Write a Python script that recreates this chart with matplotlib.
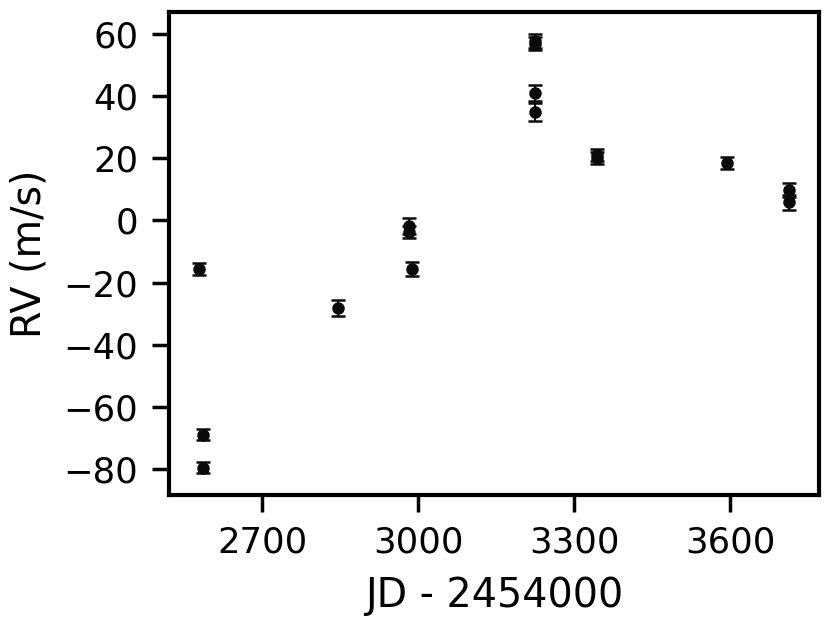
import matplotlib
matplotlib.use("Agg")
import matplotlib.pyplot as plt

# RV measurements (JD - 2454000, m/s)
jd = [2579, 2587, 2587, 2846, 2983, 2983, 2988, 3225, 3225, 3225, 3225,
      3345, 3345, 3594, 3714, 3714]
rv = [-15.6, -69.0, -79.6, -28.2, -1.8, -3.7, -15.6, 57.8, 56.9, 41.0, 34.9,
      21.0, 20.1, 18.5, 9.8, 5.8]
rv_err = [1.9, 1.8, 1.8, 2.5, 2.5, 2.0, 2.3, 2.2, 2.0, 2.7, 3.0,
          1.9, 1.8, 1.8, 2.3, 2.3]

xticks = [2700, 3000, 3300, 3600]
yticks = [-80, -60, -40, -20, 0, 20, 40, 60]

fig = plt.figure(figsize=(8.31, 6.24), dpi=100)
ax = fig.add_axes([169 / 831, 1 - 495 / 624, 650 / 831, 483 / 624])

ax.errorbar(jd, rv, yerr=rv_err, fmt="o", color="#0a0a0a", ms=8,
            elinewidth=1.5, capsize=5, capthick=1.8)

ax.set_xlim(2521, 3771)
ax.set_ylim(-88.4, 67.1)
ax.set_xticks(xticks)
ax.set_yticks(yticks)
ax.tick_params(axis="both", which="major", length=12, width=2.5,
               labelsize=25.5, pad=10)
for sp in ax.spines.values():
    sp.set_linewidth(3)

ax.set_xlabel("JD - 2454000", fontsize=28.5, labelpad=12)
ax.set_ylabel("RV (m/s)", fontsize=28.5, labelpad=10)

fig.savefig("out.png", dpi=100)
